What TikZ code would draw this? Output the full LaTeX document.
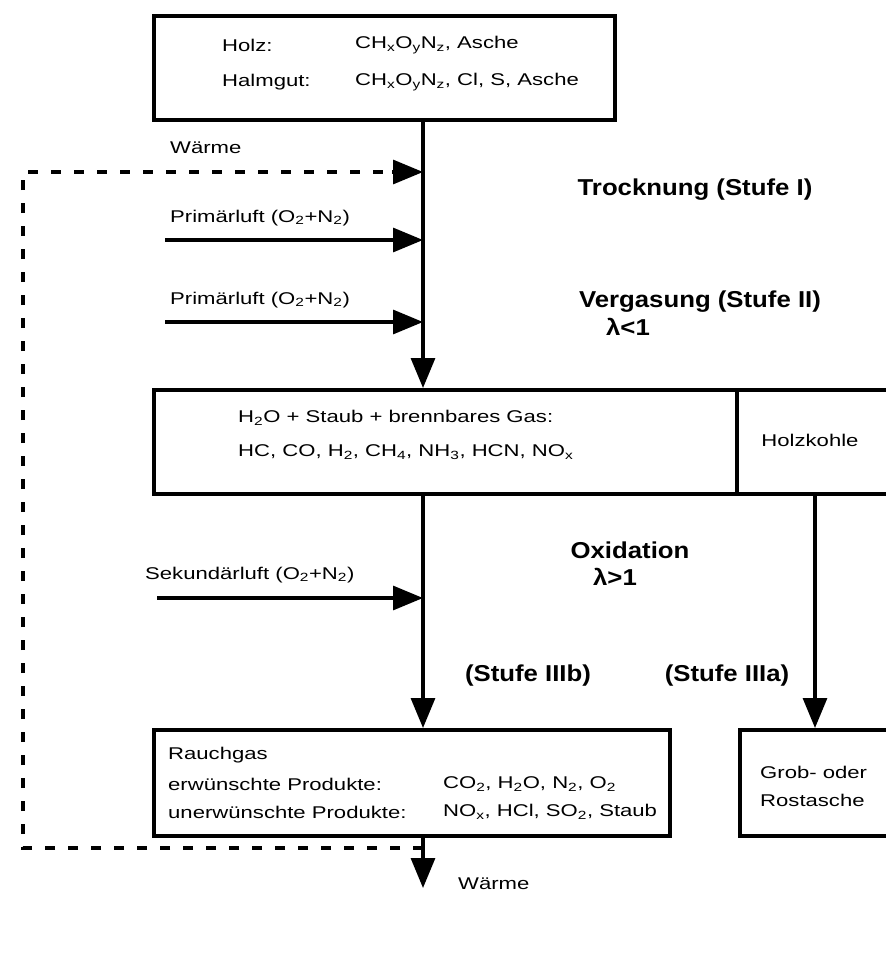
\documentclass[tikz,border=0pt]{standalone}
\usepackage{fontspec}
\setmainfont{Liberation Sans}
\newfontfamily\rfont[FakeStretch=1.3]{Liberation Sans}
\newfontfamily\bfont[FakeStretch=1.12]{Liberation Sans}
\usetikzlibrary{arrows.meta}
\newcommand\sbs[1]{\textsubscript{#1}}
\tikzset{
  box/.style={draw, line width=3.8pt, inner sep=0pt, anchor=north west},
  txt/.style={anchor=west, inner sep=0pt, font=\rfont\fontsize{17}{20}\selectfont},
  lbl/.style={inner sep=0pt, font=\bfont\bfseries\fontsize{23}{26}\selectfont},
  flow/.style={line width=3.2pt, -{Triangle[length=30pt,width=24pt]}},
  heat/.style={line width=3.8pt, dash pattern=on 10pt off 13pt},
}
\begin{document}
\begin{tikzpicture}[x=1pt,y=-1pt]
\useasboundingbox (0,0) rectangle (886,953);
% boxes
\node[box, minimum width=461pt, minimum height=104pt] (b1) at (152,14) {};
\node[box, minimum width=583pt, minimum height=104pt] (b2) at (152,388) {};
\node[box, minimum width=160pt, minimum height=104pt] (b2r) at (735,388) {};
\node[box, minimum width=516pt, minimum height=106pt] (b3) at (152,728) {};
\node[box, minimum width=160pt, minimum height=106pt] (b4) at (738,728) {};
% coordinates
\coordinate (m) at (423,0);
\coordinate (r) at (815,0);
% box texts
\node[txt] (h1) at (222,45) {Holz:};
\node[txt] (h1f) at (355,45) {CH\sbs{x}O\sbs{y}N\sbs{z}, Asche};
\node[txt] (h2) at (222,82) {Halmgut:};
\node[txt] (h2f) at (355,82) {CH\sbs{x}O\sbs{y}N\sbs{z}, Cl, S, Asche};
\node[txt] (g1) at (238,418) {H\sbs{2}O + Staub + brennbares Gas:};
\node[txt] (g2) at (238,452) {HC, CO, H\sbs{2}, CH\sbs{4}, NH\sbs{3}, HCN, NO\sbs{x}};
\node[txt, anchor=center] (hk) at (810,440) {Holzkohle};
\node[txt] (r1) at (168,755) {Rauchgas};
\node[txt] (r2) at (168,784) {erwünschte Produkte:};
\node[txt] (r2f) at (443,784) {CO\sbs{2}, H\sbs{2}O, N\sbs{2}, O\sbs{2}};
\node[txt] (r3) at (168,812) {unerwünschte Produkte:};
\node[txt] (r3f) at (443,812) {NO\sbs{x}, HCl, SO\sbs{2}, Staub};
\node[txt] (a1) at (760,772) {Grob- oder};
\node[txt] (a2) at (760,800) {Rostasche};
% side labels
\node[txt] (w1) at (170,148) {Wärme};
\node[txt] (p1) at (170,218) {Primärluft (O\sbs{2}+N\sbs{2})};
\node[txt] (p2) at (170,300) {Primärluft (O\sbs{2}+N\sbs{2})};
\node[txt] (s1) at (145,575) {Sekundärluft (O\sbs{2}+N\sbs{2})};
\node[txt] (w2) at (458,884) {Wärme};
% stage labels
\node[lbl] (st1) at (695,190) {Trocknung (Stufe I)};
\node[lbl] (st2) at (700,302) {Vergasung (Stufe II)};
\node[lbl] (l1) at (628,327) {λ<1};
\node[lbl] (st3) at (630,550) {Oxidation};
\node[lbl] (l2) at (615,577) {λ>1};
\node[lbl] (st3b) at (528,676) {(Stufe IIIb)};
\node[lbl] (st3a) at (727,676) {(Stufe IIIa)};
% connector coordinates
\coordinate (pa1) at (165,240);
\coordinate (pa2) at (165,322);
\coordinate (sa) at (157,598);
\coordinate (hw) at (23,172);
\coordinate (hb) at (23,848);
\coordinate (wend) at (423,888);
% main flow
\draw[flow] (b1.south -| m) -- (b2.north -| m);
\draw[flow] (b2.south -| m) -- (b3.north -| m);
\draw[flow] (b2r.south -| r) -- (b4.north -| r);
\draw[flow] (b3.south -| m) -- (wend);
% air inputs
\draw[flow] (pa1) -- (pa1 -| m);
\draw[flow] (pa2) -- (pa2 -| m);
\draw[flow] (sa) -- (sa -| m);
% heat recirculation
\draw[heat] (hb -| m) -- (hb) -- (hw) -- ([xshift=-30pt]hw -| m);
\draw[flow] ([xshift=-31pt]hw -| m) -- (hw -| m);
\end{tikzpicture}
\end{document}
